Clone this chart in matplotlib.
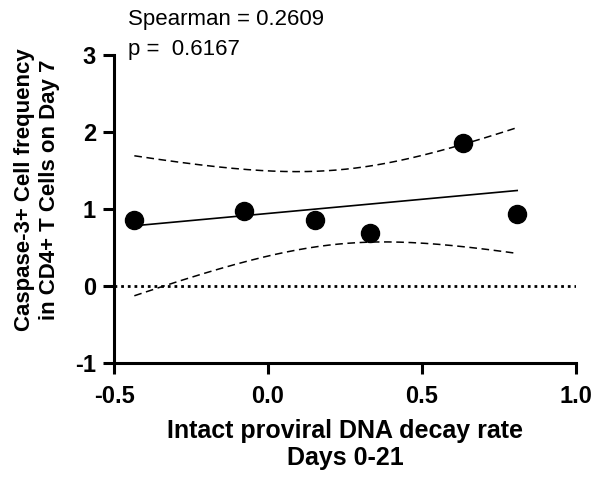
import numpy as np
import matplotlib
matplotlib.use("Agg")
import matplotlib.pyplot as plt

plt.rcParams["font.family"] = ["Liberation Sans", "DejaVu Sans"]

# Data
decay_rate = [-0.434, -0.079, 0.152, 0.332, 0.634, 0.809]
caspase_freq = [0.861, 0.974, 0.861, 0.684, 1.853, 0.939]
x_ticks = [-0.5, 0.0, 0.5, 1.0]
y_ticks = [-1, 0, 1, 2, 3]
spearman_r = "0.2609"
p_value = "0.6167"

x = np.array(decay_rate)
y = np.array(caspase_freq)

# Linear fit with 95% confidence band
n = len(x)
slope, intercept = np.polyfit(x, y, 1)
resid = y - (slope * x + intercept)
s = np.sqrt(np.sum(resid ** 2) / (n - 2))
sxx = np.sum((x - x.mean()) ** 2)
t_crit = 2.776  # t(0.975, df=4)
xs = np.linspace(x.min(), x.max(), 200)
fit = slope * xs + intercept
half = t_crit * s * np.sqrt(1 / n + (xs - x.mean()) ** 2 / sxx)

fig = plt.figure(figsize=(5.95, 4.78), dpi=100)
ax = fig.add_axes([0.1916, 0.2406, 0.7765, 0.6444])

ax.axhline(0, color="black", linestyle=(0, (1, 1.4)), linewidth=2.0, zorder=1)
ax.plot(xs, fit, color="black", linewidth=1.2, zorder=2)
ax.plot(xs, fit + half, color="black", linewidth=1.1, linestyle=(0, (5, 3)), zorder=2)
ax.plot(xs, fit - half, color="black", linewidth=1.1, linestyle=(0, (5, 3)), zorder=2)
ax.plot(x, y, "o", color="black", markersize=13, zorder=3, clip_on=False)

ax.set_xlim(-0.5, 1.0)
ax.set_ylim(-1, 3)
ax.set_xticks(x_ticks)
ax.set_xticklabels([f"{v:.1f}" for v in x_ticks])
ax.set_yticks(y_ticks)
ax.set_yticklabels([str(v) for v in y_ticks])

for side in ["top", "right"]:
    ax.spines[side].set_visible(False)
for side in ["left", "bottom"]:
    ax.spines[side].set_linewidth(2.2)
ax.tick_params(axis="both", width=2.2, length=8, labelsize=17, pad=5)
ax.tick_params(axis="x", pad=8)
for lab in ax.get_xticklabels() + ax.get_yticklabels():
    lab.set_fontweight("bold")

ax.set_xlabel("Intact proviral DNA decay rate\nDays 0-21", fontsize=18,
              fontweight="bold", labelpad=8, linespacing=1.15)
fig.text(0.062, 0.6025, "Caspase-3+ Cell frequency\nin CD4+ T Cells on Day 7",
         rotation=90, ha="center", va="center", fontsize=16,
         fontweight="bold", linespacing=1.25)

fig.text(128 / 595, 1 - 25 / 478, f"Spearman = {spearman_r}", fontsize=16,
         ha="left", va="baseline")
fig.text(128 / 595, 1 - 55 / 478, f"p =  {p_value}", fontsize=16,
         ha="left", va="baseline")

fig.savefig("out.png", dpi=100)
